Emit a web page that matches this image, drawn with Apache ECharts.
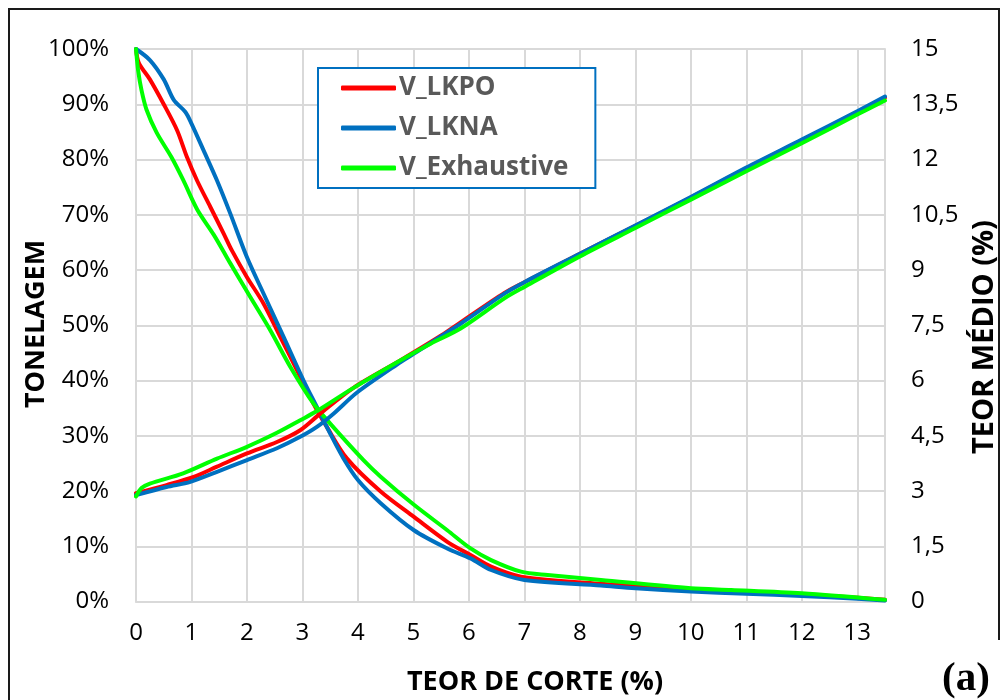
<!DOCTYPE html>
<html>
<head>
<meta charset="utf-8">
<script src="https://cdn.jsdelivr.net/npm/echarts@6/dist/echarts.min.js"></script>
<style>
  html, body { margin: 0; padding: 0; background: #fff; }
  #chart { width: 1001px; height: 700px; }
</style>
</head>
<body>
<div id="chart"></div>
<script>
// Series names (legend)
const seriesNames = ['V_LKPO', 'V_LKNA', 'V_Exhaustive'];

// Tonnage curves (left axis, % of tonnage above cut-off)
const lkpoTonX = [0, 0.05, 0.25, 0.5, 0.74, 0.92, 1.1, 1.34, 1.58, 1.73, 2.0, 2.3, 2.6, 2.9, 3.2, 3.44, 3.8, 4.41, 5.01, 5.61, 6.03, 6.4, 6.94, 8.38, 10, 12, 13.5];
const lkpoTonY = [100, 97.5, 94.5, 90, 85.3, 80.4, 76.2, 71.4, 66.6, 63.5, 58.7, 53.9, 47.9, 41.9, 35.8, 31.6, 25.9, 19.9, 15.3, 10.8, 8.4, 6.3, 4.5, 3.2, 2.2, 1.3, 0.3];

const lknaTonX = [0, 0.25, 0.5, 0.68, 0.89, 1.0, 1.22, 1.46, 1.7, 2.0, 2.3, 2.66, 3.02, 3.26, 3.5, 3.74, 4.0, 4.41, 5.01, 5.61, 6.03, 6.4, 7.0, 8.38, 9, 10, 11, 12, 13, 13.5];
const lknaTonY = [100, 98, 94.5, 90.8, 88.6, 86.5, 81.6, 76.2, 70.2, 62.3, 55.7, 47.9, 40, 35.2, 30.4, 25.9, 22, 17.8, 12.9, 9.6, 7.8, 5.7, 3.9, 2.9, 2.4, 1.8, 1.4, 1.0, 0.5, 0.2];

const exhTonX = [0, 0.04, 0.1, 0.19, 0.37, 0.64, 0.85, 1.1, 1.4, 1.58, 1.7, 2.06, 2.42, 2.78, 3.2, 3.5, 4.1, 4.41, 5.01, 5.61, 6.03, 6.4, 6.94, 7.42, 8.38, 10, 10.73, 12, 13.5];
const exhTonY = [100, 96, 92.5, 89, 84.9, 80.4, 76.3, 71, 66.4, 63.3, 61.2, 55.1, 49.1, 42.5, 35.8, 32.2, 25.6, 22.6, 17.5, 12.9, 9.6, 7.5, 5.4, 4.8, 3.9, 2.4, 2.1, 1.5, 0.3];

// Mean grade curves (right axis, %)
const lkpoGradeX = [0, 0.55, 1.04, 1.46, 2.0, 2.54, 2.96, 3.32, 3.92, 4.77, 5.5, 5.85, 6.64, 7, 8, 9, 10, 11, 12, 13, 13.5];
const lkpoGradeY = [2.94, 3.16, 3.38, 3.66, 4.02, 4.33, 4.65, 5.1, 5.8, 6.55, 7.22, 7.58, 8.38, 8.67, 9.44, 10.2, 10.97, 11.76, 12.52, 13.29, 13.68];

const lknaGradeX = [0, 0.55, 0.98, 1.46, 2.0, 2.54, 2.96, 3.26, 3.56, 3.99, 4.77, 5.01, 5.85, 6.64, 7, 8, 9, 10, 11, 12, 13, 13.5];
const lknaGradeY = [2.89, 3.11, 3.25, 3.52, 3.84, 4.16, 4.47, 4.74, 5.1, 5.68, 6.5, 6.73, 7.54, 8.36, 8.67, 9.44, 10.21, 10.98, 11.78, 12.54, 13.31, 13.71];

const exhGradeX = [0, 0.1, 0.25, 0.85, 1.46, 2.0, 2.54, 2.96, 3.26, 3.92, 4.77, 5.31, 5.85, 6.64, 7, 8, 9, 10, 11, 12, 13, 13.5];
const exhGradeY = [2.85, 3.08, 3.2, 3.48, 3.88, 4.2, 4.58, 4.92, 5.17, 5.8, 6.55, 7.0, 7.41, 8.23, 8.54, 9.37, 10.14, 10.91, 11.68, 12.44, 13.22, 13.6];

// Axis settings
const xMin = 0, xMax = 13.5, xStep = 1;
const leftMin = 0, leftMax = 100, leftStep = 10;
const rightMin = 0, rightMax = 15, rightStep = 1.5;

const colors = { 'V_LKPO': '#FF0000', 'V_LKNA': '#0070C0', 'V_Exhaustive': '#00FF00' };

const zip = (xs, ys) => xs.map((x, i) => [x, ys[i]]);

const gridColor = '#D9D9D9';
const tickFont = { fontFamily: '"Open Sans"', fontSize: 24, color: '#000' };
const titleFont = 'bold 27px "Open Sans"';

function lineSeries(name, xs, ys, axisIndex) {
  return {
    name: name,
    type: 'line',
    yAxisIndex: axisIndex,
    data: zip(xs, ys),
    symbol: 'none',
    smooth: 0.3,
    lineStyle: { width: 4, color: colors[name], cap: 'round', join: 'round' },
    itemStyle: { color: colors[name] },
    z: 3
  };
}

const chart = echarts.init(document.getElementById('chart'), null, { renderer: 'canvas' });

chart.setOption({
  animation: false,
  backgroundColor: '#fff',
  grid: { left: 136, right: 116, top: 49, bottom: 98.5, containLabel: false },
  xAxis: {
    type: 'value',
    min: xMin, max: xMax, interval: xStep,
    axisLine: { show: true, lineStyle: { color: gridColor, width: 2 } },
    axisTick: { show: false },
    splitLine: { show: true, lineStyle: { color: gridColor, width: 2 } },
    axisLabel: Object.assign({ margin: 20, formatter: v => (Number.isInteger(v) ? String(v) : '') }, tickFont)
  },
  yAxis: [
    {
      type: 'value',
      min: leftMin, max: leftMax, interval: leftStep,
      axisLine: { show: true, lineStyle: { color: gridColor, width: 2 } },
      axisTick: { show: false },
      splitLine: { show: true, lineStyle: { color: gridColor, width: 2 } },
      axisLabel: Object.assign({ margin: 27, formatter: '{value}%' }, tickFont)
    },
    {
      type: 'value',
      position: 'right',
      min: rightMin, max: rightMax, interval: rightStep,
      axisLine: { show: true, lineStyle: { color: gridColor, width: 2 } },
      axisTick: { show: false },
      splitLine: { show: false },
      axisLabel: Object.assign({ margin: 26, formatter: v => String(+v.toFixed(1)).replace('.', ',') }, tickFont)
    }
  ],
  legend: {
    data: seriesNames,
    orient: 'vertical',
    left: 318, top: 68,
    padding: [7, 27, 7, 23],
    itemGap: 14,
    itemWidth: 55,
    itemHeight: 5,
    icon: 'roundRect',
    backgroundColor: '#fff',
    borderColor: '#0070C0',
    borderWidth: 2,
    borderRadius: 0,
    textStyle: { fontFamily: '"Open Sans"', fontWeight: 'bold', fontSize: 26, lineHeight: 26, color: '#595959', padding: [0, 0, 0, -2] }
  },
  series: [
    lineSeries('V_LKPO', lkpoTonX, lkpoTonY, 0),
    lineSeries('V_LKNA', lknaTonX, lknaTonY, 0),
    lineSeries('V_Exhaustive', exhTonX, exhTonY, 0),
    lineSeries('V_LKPO', lkpoGradeX, lkpoGradeY, 1),
    lineSeries('V_LKNA', lknaGradeX, lknaGradeY, 1),
    lineSeries('V_Exhaustive', exhGradeX, exhGradeY, 1)
  ],
  graphic: [
    // frame around the figure
    {
      type: 'polyline',
      shape: { points: [[9, 705], [9, 9], [999, 9], [999, 640]] },
      style: { stroke: '#1a1a1a', lineWidth: 2, fill: null },
      silent: true
    },
    {
      type: 'text',
      x: 36, y: 324, rotation: Math.PI / 2,
      style: { text: 'TONELAGEM', font: titleFont, fill: '#000', textAlign: 'center', textVerticalAlign: 'middle' }
    },
    {
      type: 'text',
      x: 985, y: 337, rotation: Math.PI / 2,
      style: { text: 'TEOR MÉDIO (%)', font: 'bold 29px "Open Sans"', fill: '#000', textAlign: 'center', textVerticalAlign: 'middle' }
    },
    {
      type: 'text',
      x: 535, y: 682,
      style: { text: 'TEOR DE CORTE (%)', font: titleFont, fill: '#000', textAlign: 'center', textVerticalAlign: 'middle' }
    },
    {
      type: 'text',
      x: 942, y: 679,
      style: { text: '(a)', font: 'bold 41px "Liberation Serif"', fill: '#000', textAlign: 'left', textVerticalAlign: 'middle' }
    }
  ]
});
</script>
</body>
</html>
